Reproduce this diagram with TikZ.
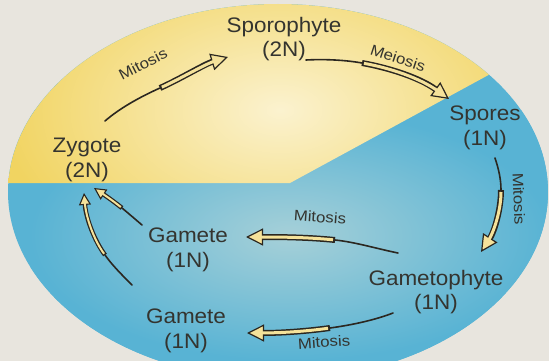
\documentclass[tikz,border=0pt]{standalone}
\usepackage{fontspec}
\setmainfont[FakeStretch=1.07]{Liberation Sans}
\newfontfamily\lblfont[FakeStretch=1.12]{Liberation Sans}
\usetikzlibrary{arrows.meta}
\definecolor{bgc}{HTML}{E8E5DE}
\definecolor{yelmain}{HTML}{F1D461}
\definecolor{yellight}{HTML}{FBF2CF}
\definecolor{bluemain}{HTML}{58B3D4}
\definecolor{bluelight}{HTML}{A6D0D8}
\definecolor{txt}{HTML}{34342F}
\definecolor{ark}{HTML}{2B2720}
\definecolor{afill}{HTML}{F5E29A}
\begin{document}
\begin{tikzpicture}[x=1pt,y=-1pt,
  stage/.style={align=center, text=txt, font=\fontsize{21}{24.5}\selectfont, inner sep=0pt},
  proc/.style={text=txt, font=\lblfont\fontsize{15}{17}\selectfont, inner sep=0pt},
  tailline/.style={draw=ark, line width=1.6pt, line cap=round},
  bigouter/.style={draw=ark, line width=6pt, -{Triangle[length=17pt,width=17pt,line width=1.2pt,fill=afill]}},
  biginner/.style={draw=afill, line width=3pt, shorten >=13pt, shorten <=2pt},
  smallouter/.style={draw=ark, line width=4.5pt, -{Triangle[length=12pt,width=12pt,line width=1.1pt,fill=afill]}},
  smallinner/.style={draw=afill, line width=2pt, shorten >=9pt, shorten <=1.5pt},
]
\useasboundingbox (0,0) rectangle (549,361);
\fill[bgc] (0,0) rectangle (549,361);
% ellipse with two halves
\begin{scope}
  \clip (0,0) rectangle (549,361);
  \clip (278,192) ellipse [x radius=270, y radius=188];
  \fill[bluemain] (0,0) rectangle (549,361);
  \shade[inner color=bluelight, outer color=bluemain] (30,110) rectangle (550,361);
  \clip (290,183) -- ([shift={(278,192)}]-38.6:270 and 188)
        arc[start angle=-38.6, end angle=-177.3, x radius=270, y radius=188] -- cycle;
  \shade[inner color=yellight, outer color=yelmain] (0,-60) rectangle (560,280);
\end{scope}

% stages
\node[stage] (spo) at (284,39) {Sporophyte\\(2N)};
\node[stage] (zyg) at (87,160) {Zygote\\(2N)};
\node[stage] (spr) at (485,128) {Spores\\(1N)};
\node[stage] (gm1) at (188,250) {Gamete\\(1N)};
\node[stage] (gph) at (436,292) {Gametophyte\\(1N)};
\node[stage] (gm2) at (186,331) {Gamete\\(1N)};

% process labels
\node[proc, rotate=27] (l1) at (143,64) {Mitosis};
\node[proc, rotate=-18] (l2) at (398,58) {Meiosis};
\node[proc, rotate=-88] (l3) at (519,199) {Mitosis};
\node[proc, rotate=-4] (l4) at (320,217) {Mitosis};
\node[proc, rotate=4] (l5) at (324,342) {Mitosis};

% arrow coordinates
\coordinate (a1s) at (105,121); \coordinate (a1m) at (160,88); \coordinate (a1t) at (228,57);
\coordinate (a2s) at (306,60);  \coordinate (a2m) at (362,63); \coordinate (a2t) at (449,99);
\coordinate (a3s) at (495,158); \coordinate (a3m) at (501,190); \coordinate (a3t) at (481,252);
\coordinate (a4s) at (398,253); \coordinate (a4m) at (335,240); \coordinate (a4t) at (246,237);
\coordinate (a5s) at (393,313); \coordinate (a5m) at (330,328); \coordinate (a5t) at (247,333);
\coordinate (a6s) at (142,225); \coordinate (a6m) at (122,208); \coordinate (a6t) at (94,188);
\coordinate (a7s) at (132,285); \coordinate (a7m) at (105,255); \coordinate (a7t) at (84,193);

% arrow 1: Zygote -> Sporophyte
\draw[tailline] (a1s) .. controls (120,108) and (140,97) .. (a1m);
\draw[bigouter] (a1m) .. controls (180,79) and (205,64) .. (a1t);
\draw[biginner] (a1m) .. controls (180,79) and (205,64) .. (a1t);
% arrow 2: Sporophyte -> Spores
\draw[tailline] (a2s) .. controls (325,59) and (345,60) .. (a2m);
\draw[bigouter] (a2m) .. controls (390,68) and (420,78) .. (a2t);
\draw[biginner] (a2m) .. controls (390,68) and (420,78) .. (a2t);
% arrow 3: Spores -> Gametophyte
\draw[tailline] (a3s) .. controls (499,170) and (501,180) .. (a3m);
\draw[bigouter] (a3m) .. controls (501,210) and (494,232) .. (a3t);
\draw[biginner] (a3m) .. controls (501,210) and (494,232) .. (a3t);
% arrow 4: Gametophyte -> Gamete (upper)
\draw[tailline] (a4s) .. controls (378,249) and (355,242) .. (a4m);
\draw[bigouter] (a4m) .. controls (305,237) and (275,237) .. (a4t);
\draw[biginner] (a4m) .. controls (305,237) and (275,237) .. (a4t);
% arrow 5: Gametophyte -> Gamete (lower)
\draw[tailline] (a5s) .. controls (375,320) and (352,325) .. (a5m);
\draw[bigouter] (a5m) .. controls (301,332) and (275,333) .. (a5t);
\draw[biginner] (a5m) .. controls (301,332) and (275,333) .. (a5t);
% arrow 6: Gamete (upper) -> Zygote
\draw[tailline] (a6s) .. controls (135,219) and (128,213) .. (a6m);
\draw[smallouter] (a6m) .. controls (112,200) and (103,194) .. (a6t);
\draw[smallinner] (a6m) .. controls (112,200) and (103,194) .. (a6t);
% arrow 7: Gamete (lower) -> Zygote
\draw[tailline] (a7s) .. controls (122,275) and (112,265) .. (a7m);
\draw[smallouter] (a7m) .. controls (94,240) and (86,218) .. (a7t);
\draw[smallinner] (a7m) .. controls (94,240) and (86,218) .. (a7t);
\end{tikzpicture}
\end{document}
